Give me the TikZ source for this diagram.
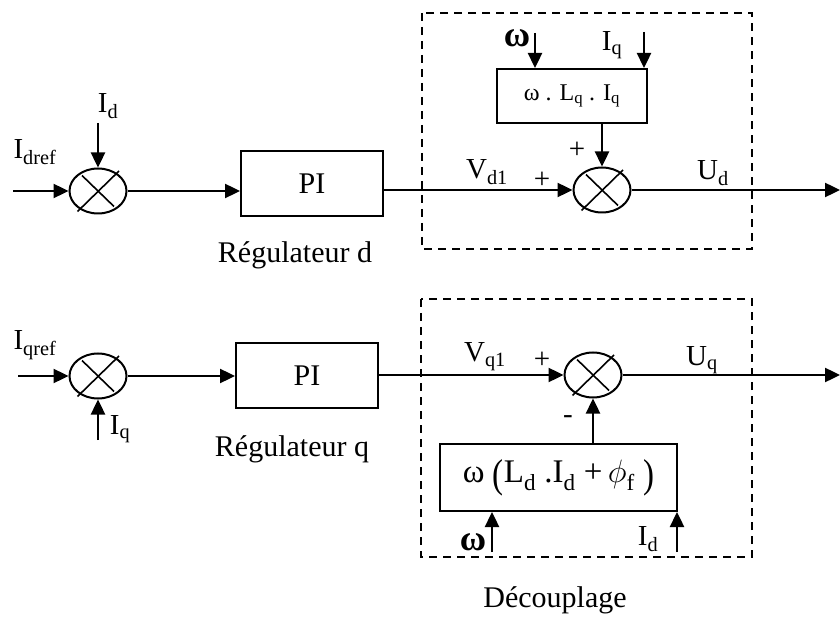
\documentclass[tikz,border=0pt]{standalone}
\usepackage{fontspec}
\usepackage{graphicx}
\setmainfont{Liberation Serif}
\usetikzlibrary{arrows.meta,shapes.geometric,calc}
% stretched parenthesis for the decoupling term
\newcommand\tallparen[1]{\raisebox{-0.13em}{\scalebox{1}[1.22]{#1}}}
\begin{document}
\begin{tikzpicture}[x=1pt,y=-1pt,
  lab/.style={font=\fontsize{29}{34}\selectfont, inner sep=0pt},
  omega/.style={font=\fontsize{36}{40}\selectfont\bfseries, inner sep=0pt},
  title/.style={font=\fontsize{30}{36}\selectfont, inner sep=0pt},
  block/.style={draw, line width=2pt, rectangle, inner sep=0pt},
  sumj/.style={draw, ellipse, line width=2pt, minimum width=57pt, minimum height=45pt, inner sep=0pt},
  arr/.style={line width=2.4pt, -{Triangle[length=15pt,width=14pt]}},
  frame/.style={line width=2pt, dash pattern=on 8pt off 6pt},
  cross/.style={line width=1.6pt}]

\path[use as bounding box] (0,0) rectangle (840,617);

% decoupling frames
\draw[frame] (422,13) rectangle (752,249);
\draw[frame] (421,299) rectangle (752,557);

% ---------- d axis ----------
\node[sumj] (s1) at (98,191) {};
\node[block, minimum width=142pt, minimum height=65pt, font=\fontsize{30}{36}\selectfont] (p1) at (312,183.5) {PI};
\node[sumj] (s2) at (602,190) {};
\node[block, minimum width=150pt, minimum height=54pt, font=\fontsize{24}{28}\selectfont] (b1) at (572,96) {ω . L\textsubscript{q} . I\textsubscript{q}};

\coordinate (in1) at (13,191);
\coordinate (fb1) at (98,123);
\coordinate (ud) at (840,190);
\coordinate (w1) at (535,33);
\coordinate (iq1) at (644,32);

\draw[arr] (in1) -- (s1.west);
\draw[arr] (fb1) -- (s1.north);
\draw[arr] (s1.east) -- (s1.east -| p1.west);
\draw[arr] (p1.east |- s2.west) -- (s2.west);
\draw[arr] (s2.east) -- (ud);
\draw[arr] (b1.south -| s2.north) -- (s2.north);
\draw[arr] (w1) -- (w1 |- b1.north);
\draw[arr] (iq1) -- (iq1 |- b1.north);

\node[lab] (t-idref) at (35,152) {I\textsubscript{dref}};
\node[lab] (t-id) at (108,106) {I\textsubscript{d}};
\node[title] (t-regd) at (295,255) {Régulateur d};
\node[lab] (t-vd1) at (487,172) {V\textsubscript{d1}};
\node[lab] (t-pd1) at (542,180) {+};
\node[lab] (t-pd2) at (577,150) {+};
\node[lab] (t-ud) at (713,173) {U\textsubscript{d}};
\node[omega] (t-w1) at (517,38) {ω};
\node[lab] (t-iq1) at (612,45) {I\textsubscript{q}};

% ---------- q axis ----------
\node[sumj] (s3) at (98,376) {};
\node[block, minimum width=142pt, minimum height=65pt, font=\fontsize{30}{36}\selectfont] (p2) at (307,375.5) {PI};
\node[sumj] (s4) at (593,375) {};
\node[block, minimum width=237pt, minimum height=67pt, font=\fontsize{33}{38}\selectfont] (b2) at (558.5,477.5)
  {ω \tallparen{(}L\textsubscript{d} .I\textsubscript{d} +\,\scalebox{1.3}{$\phi$}\textsubscript{f} \tallparen{)}};

\coordinate (in2) at (18,376);
\coordinate (fb2) at (98,440);
\coordinate (uq) at (840,375);
\coordinate (w2) at (492,552);
\coordinate (id2) at (677,552);

\draw[arr] (in2) -- (s3.west);
\draw[arr] (fb2) -- (s3.south);
\draw[arr] (s3.east) -- (s3.east -| p2.west);
\draw[arr] (p2.east |- s4.west) -- (s4.west);
\draw[arr] (s4.east) -- (uq);
\draw[arr] (b2.north -| s4.south) -- (s4.south);
\draw[arr] (w2) -- (w2 |- b2.south);
\draw[arr] (id2) -- (id2 |- b2.south);

\node[lab] (t-iqref) at (35,345) {I\textsubscript{qref}};
\node[lab] (t-iq2) at (120,429) {I\textsubscript{q}};
\node[title] (t-regq) at (292,449) {Régulateur q};
\node[lab] (t-vq1) at (485,357) {V\textsubscript{q1}};
\node[lab] (t-pq) at (542,360) {+};
\node[lab] (t-mq) at (568,420) {-};
\node[lab] (t-uq) at (702,360) {U\textsubscript{q}};
\node[omega] (t-w2) at (473,542) {ω};
\node[lab] (t-id2) at (648,539) {I\textsubscript{d}};
\node[title] (t-dec) at (555,600) {Découplage};

% crosses inside the summing junctions
\foreach \s in {s1,s2,s3,s4} {
  \draw[cross] ($(\s)+(-16,-15.5)$) -- ($(\s)+(16,15.5)$);
  \draw[cross] ($(\s)+(-20.5,20.5)$) -- ($(\s)+(21,-20)$);
}
\end{tikzpicture}
\end{document}
